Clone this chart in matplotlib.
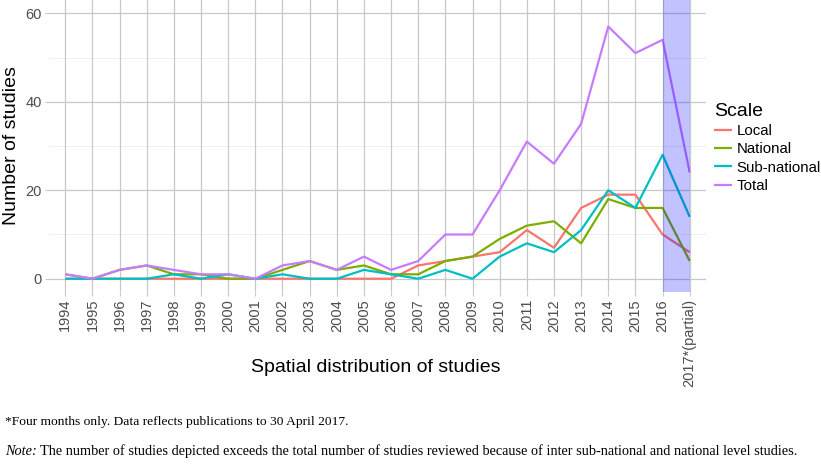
import numpy as np
import matplotlib
matplotlib.use('Agg')
import matplotlib.pyplot as plt

plt.rcParams['font.family'] = ['Liberation Sans', 'DejaVu Sans']

# Data
years = ['1994', '1995', '1996', '1997', '1998', '1999', '2000', '2001', '2002',
         '2003', '2004', '2005', '2006', '2007', '2008', '2009', '2010', '2011',
         '2012', '2013', '2014', '2015', '2016', '2017*(partial)']
local = [0, 0, 0, 0, 0, 0, 0, 0, 0, 0, 0, 0, 0, 3, 4, 5, 6, 11, 7, 16, 19, 19, 10, 6]
national = [1, 0, 2, 3, 1, 1, 0, 0, 2, 4, 2, 3, 1, 1, 4, 5, 9, 12, 13, 8, 18, 16, 16, 4]
sub_national = [0, 0, 0, 0, 1, 0, 1, 0, 1, 0, 0, 2, 1, 0, 2, 0, 5, 8, 6, 11, 20, 16, 28, 14]
total = [1, 0, 2, 3, 2, 1, 1, 0, 3, 4, 2, 5, 2, 4, 10, 10, 20, 31, 26, 35, 57, 51, 54, 24]

series = [('Local', local, '#F8766D'),
          ('National', national, '#7CAE00'),
          ('Sub-national', sub_national, '#00BFC4'),
          ('Total', total, '#C77CFF')]

x = np.arange(len(years))

fig = plt.figure(figsize=(8.21, 4.65), dpi=100)
ax = fig.add_axes([49/821, 1 - 292/465, (706 - 49)/821, 292/465])

# grid like ggplot theme_minimal
for yv in [10, 30, 50]:
    ax.axhline(yv, color='#ebebeb', lw=0.6, zorder=0)
for yv in [0, 20, 40, 60]:
    ax.axhline(yv, color='#c8c8c8', lw=0.9, zorder=0)
for xv in x:
    ax.axvline(xv, color='#c8c8c8', lw=0.9, zorder=0)

for name, vals, col in series:
    ax.plot(x, vals, color=col, lw=1.6, label=name, zorder=2, solid_capstyle='butt')

# shaded partial-data period
ax.axvspan(x[-2], x[-1], color='#0000FF', alpha=0.24, lw=0, zorder=3)

ax.set_xlim(-0.6, len(years) - 1 + 0.6)
ax.set_ylim(-3, 63)
ax.set_yticks([0, 20, 40, 60])
ax.set_xticks(x)
ax.set_xticklabels(years, rotation=90)
ax.tick_params(axis='both', colors='#c8c8c8', labelcolor='#4d4d4d', labelsize=10.5,
               length=3, width=0.8, pad=2)
for s in ax.spines.values():
    s.set_visible(False)

ax.set_ylabel('Number of studies', fontsize=14, color='black', labelpad=4)
fig.text(376/821, 1 - 367/465, 'Spatial distribution of studies', fontsize=14,
         ha='center', va='center')

leg = ax.legend(title='Scale', loc='upper left', bbox_to_anchor=(714/821, 1 - 103/465),
                bbox_transform=fig.transFigure, frameon=False, fontsize=10.8,
                title_fontsize=14, handlelength=1.2, handletextpad=0.3,
                labelspacing=0.28, borderaxespad=0, borderpad=0)
leg._legend_box.align = 'left'

# footnotes
fig.text(5/821, 1 - 422/465, '*Four months only. Data reflects publications to 30 April 2017.',
         family='Liberation Serif', fontsize=9.7, va='center')
note = fig.text(5/821, 1 - 451/465, 'Note:', family='Liberation Serif', style='italic',
                fontsize=10.3, va='center')
fig.canvas.draw()
bb = note.get_window_extent()
fig.text((bb.x1 + 3)/821, 1 - 451/465,
         'The number of studies depicted exceeds the total number of studies reviewed '
         'because of inter sub-national and national level studies.',
         family='Liberation Serif', fontsize=10.3, va='center')

fig.savefig('out.png', dpi=100)
